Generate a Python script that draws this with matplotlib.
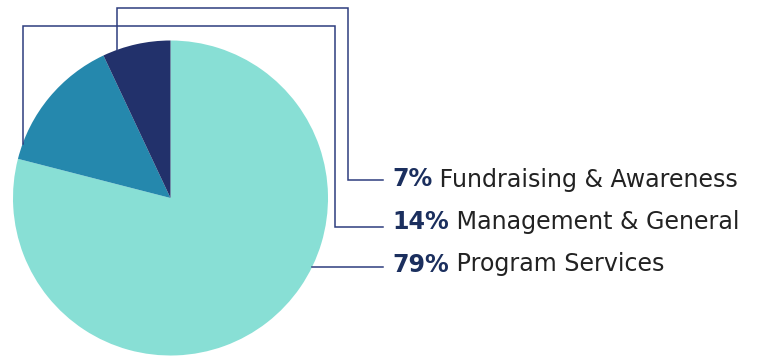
import numpy as np
import matplotlib
matplotlib.use('Agg')
import matplotlib.pyplot as plt

# 支出结构
categories = ['Program Services', 'Management & General', 'Fundraising & Awareness']
shares = [79, 14, 7]
colors = ['#88dfd5', '#2588ad', '#22316b']

line_color = '#2e3d7e'
pct_color = '#1b2f5e'
text_color = '#222222'

W, H = 758, 358
fig = plt.figure(figsize=(W / 100, H / 100), dpi=100)
ax = fig.add_axes([0, 0, 1, 1])
ax.set_xlim(0, W)
ax.set_ylim(H, 0)
ax.set_aspect('equal')
ax.axis('off')

cx, cy, r = 170.5, 198, 157.5
# y轴反向，所以用 counterclock=True 得到顺时针效果
ax.pie(shares, colors=colors, startangle=-90, counterclock=True,
       center=(cx, cy), radius=r, frame=True,
       wedgeprops=dict(linewidth=0))
ax.set_xlim(0, W)
ax.set_ylim(H, 0)
ax.axis('off')


def edge_y(x):
    return cy - np.sqrt(r ** 2 - (x - cx) ** 2)


def edge_x(y):
    return cx + np.sqrt(r ** 2 - (y - cy) ** 2)


# 引线：竖线x、顶部y、右侧竖线x、标签y
text_x, line_end = 392, 383
legs = {
    'Fundraising & Awareness': (116.7, 7.5, 348, 180.3),
    'Management & General': (22.7, 25.5, 334.5, 226.5),
}
for name, (x0, ytop, x1, yl) in legs.items():
    xs = [x0, x0, x1, x1, line_end]
    ys = [edge_y(x0), ytop, ytop, yl, yl]
    ax.plot(xs, ys, color=line_color, lw=1.1, solid_joinstyle='miter')

y_prog = 267.3
ax.plot([edge_x(y_prog), line_end], [y_prog, y_prog], color=line_color, lw=1.1)

label_y = {'Fundraising & Awareness': 179.5,
           'Management & General': 222,
           'Program Services': 264.5}

fs = 17.1
for name, val in zip(categories, shares):
    t = ax.text(text_x, label_y[name], f'{val}%', fontsize=fs, fontweight='bold',
                color=pct_color, va='center', ha='left', family='DejaVu Sans')
    ax.annotate(' ' + name, xy=(1, 0), xycoords=t, va='bottom', ha='left',
                fontsize=fs, color=text_color, family='DejaVu Sans')

fig.savefig('out.png', dpi=100)
